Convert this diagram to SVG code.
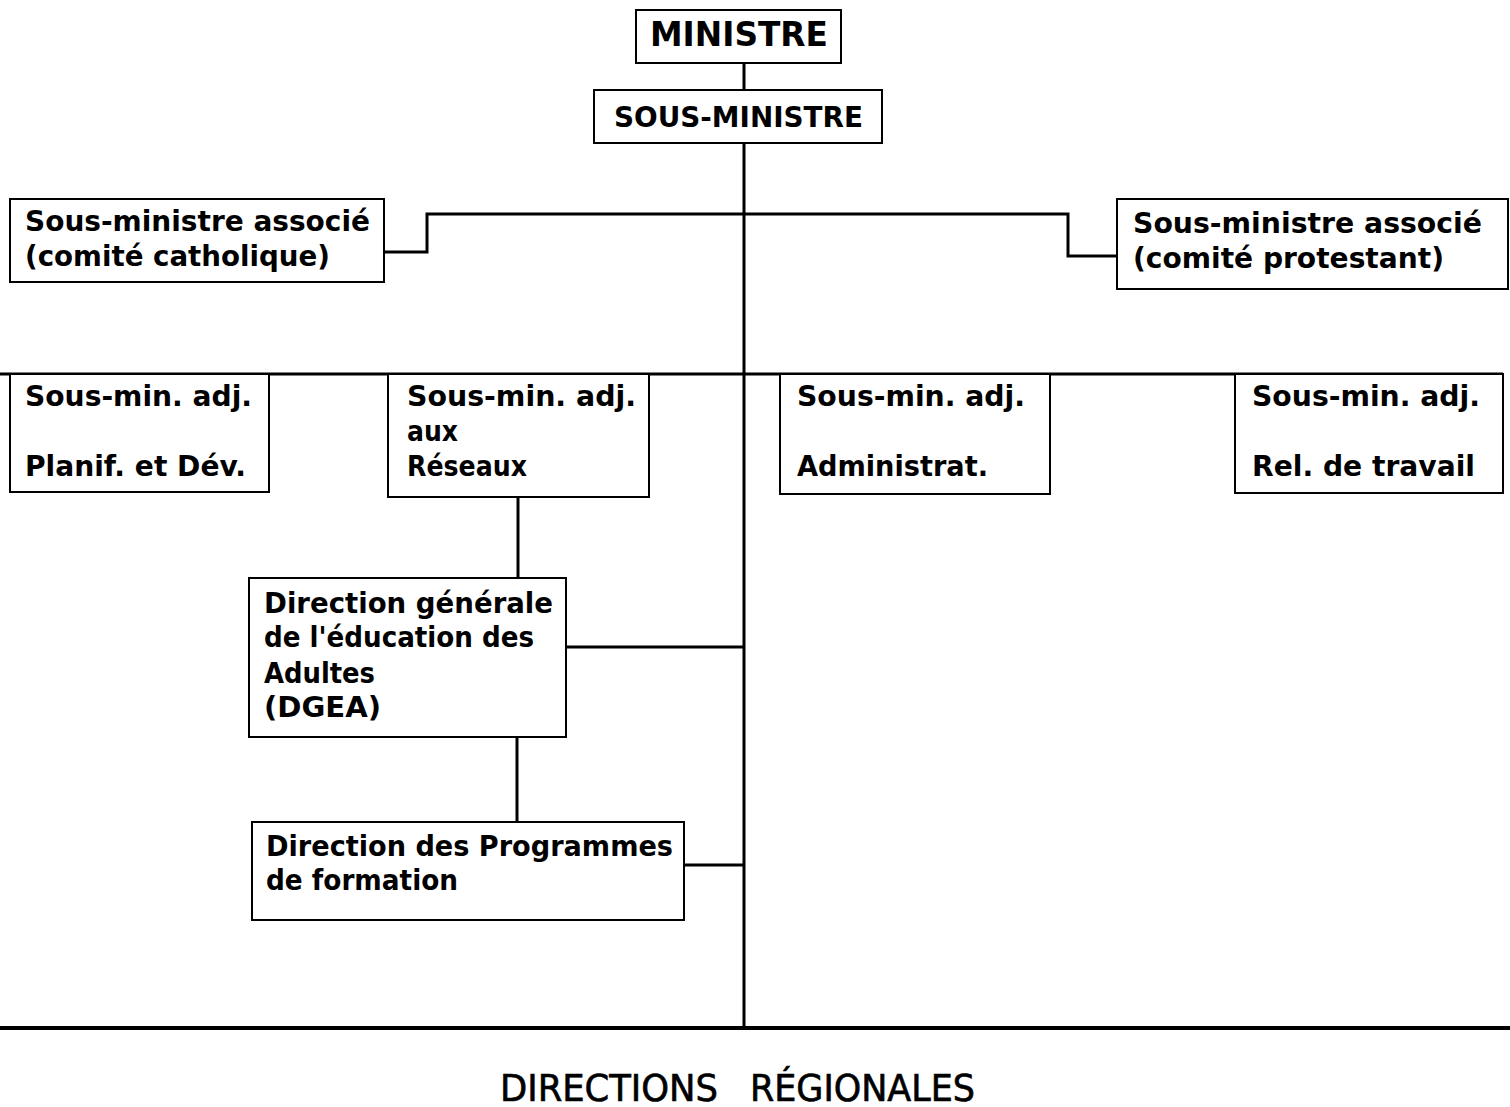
<svg xmlns="http://www.w3.org/2000/svg" width="1510" height="1107" viewBox="0 0 1510 1107">
  <style>
    .box { fill: #fff; stroke: #000; stroke-width: 2; }
    .lnk { fill: none; stroke: #000; stroke-width: 3; }
    text { font-family: "DejaVu Sans Condensed", "Liberation Sans", sans-serif; font-weight: bold; fill: #000; font-size: 29px; }
    .big { font-size: 33px; }
    .foot { font-size: 37px; font-weight: normal; stroke: #000; stroke-width: 0.6; }
  </style>
  <rect width="1510" height="1107" fill="#fff"/>

  <!-- connectors -->
  <g id="connectors">
    <line class="lnk" x1="744" y1="63" x2="744" y2="90"/>
    <line class="lnk" x1="744" y1="143" x2="744" y2="1028"/>
    <polyline class="lnk" points="384,252 427,252 427,214 1068,214 1068,256 1117,256"/>
    <line class="lnk" x1="0" y1="374" x2="1503" y2="374"/>
    <line class="lnk" x1="518" y1="497" x2="518" y2="578"/>
    <line class="lnk" x1="566" y1="647" x2="744" y2="647"/>
    <line class="lnk" x1="517" y1="737" x2="517" y2="822"/>
    <line class="lnk" x1="684" y1="865" x2="744" y2="865"/>
    <line x1="0" y1="1028" x2="1510" y2="1028" stroke="#000" stroke-width="4"/>
  </g>

  <g id="ministre">
    <rect class="box" x="636" y="10" width="205" height="53"/>
    <text class="big" x="650" y="46" textLength="178" lengthAdjust="spacingAndGlyphs">MINISTRE</text>
  </g>

  <g id="sous-ministre">
    <rect class="box" x="594" y="90" width="288" height="53"/>
    <text x="614" y="127" textLength="249" lengthAdjust="spacingAndGlyphs">SOUS-MINISTRE</text>
  </g>

  <g id="assoc-catholique">
    <rect class="box" x="10" y="199" width="374" height="83"/>
    <text x="25" y="231" textLength="345" lengthAdjust="spacingAndGlyphs">Sous-ministre associé</text>
    <text x="25" y="266" textLength="305" lengthAdjust="spacingAndGlyphs">(comité catholique)</text>
  </g>

  <g id="assoc-protestant">
    <rect class="box" x="1117" y="199" width="391" height="90"/>
    <text x="1133" y="233" textLength="349" lengthAdjust="spacingAndGlyphs">Sous-ministre associé</text>
    <text x="1133" y="268" textLength="311" lengthAdjust="spacingAndGlyphs">(comité protestant)</text>
  </g>

  <g id="adj-planif">
    <rect class="box" x="10" y="374" width="259" height="118"/>
    <text x="25" y="406" textLength="227" lengthAdjust="spacingAndGlyphs">Sous-min. adj.</text>
    <text x="25" y="476" textLength="221" lengthAdjust="spacingAndGlyphs">Planif. et Dév.</text>
  </g>

  <g id="adj-reseaux">
    <rect class="box" x="388" y="374" width="261" height="123"/>
    <text x="407" y="406" textLength="229" lengthAdjust="spacingAndGlyphs">Sous-min. adj.</text>
    <text x="407" y="441" textLength="51" lengthAdjust="spacingAndGlyphs">aux</text>
    <text x="407" y="476" textLength="120" lengthAdjust="spacingAndGlyphs">Réseaux</text>
  </g>

  <g id="adj-administrat">
    <rect class="box" x="780" y="374" width="270" height="120"/>
    <text x="797" y="406" textLength="228" lengthAdjust="spacingAndGlyphs">Sous-min. adj.</text>
    <text x="797" y="476" textLength="191" lengthAdjust="spacingAndGlyphs">Administrat.</text>
  </g>

  <g id="adj-travail">
    <rect class="box" x="1235" y="374" width="268" height="119"/>
    <text x="1252" y="406" textLength="228" lengthAdjust="spacingAndGlyphs">Sous-min. adj.</text>
    <text x="1252" y="476" textLength="223" lengthAdjust="spacingAndGlyphs">Rel. de travail</text>
  </g>

  <g id="dgea">
    <rect class="box" x="249" y="578" width="317" height="159"/>
    <text x="264" y="613" textLength="289" lengthAdjust="spacingAndGlyphs">Direction générale</text>
    <text x="264" y="647" textLength="270" lengthAdjust="spacingAndGlyphs">de l'éducation des</text>
    <text x="264" y="683" textLength="111" lengthAdjust="spacingAndGlyphs">Adultes</text>
    <text x="264" y="717" textLength="117" lengthAdjust="spacingAndGlyphs">(DGEA)</text>
  </g>

  <g id="programmes">
    <rect class="box" x="252" y="822" width="432" height="98"/>
    <text x="266" y="856" textLength="407" lengthAdjust="spacingAndGlyphs">Direction des Programmes</text>
    <text x="266" y="890" textLength="192" lengthAdjust="spacingAndGlyphs">de formation</text>
  </g>

  <g id="directions-regionales">
    <text class="foot" y="1101"><tspan x="500" textLength="218" lengthAdjust="spacingAndGlyphs">DIRECTIONS</tspan><tspan x="750" textLength="225" lengthAdjust="spacingAndGlyphs">RÉGIONALES</tspan></text>
  </g>
</svg>
